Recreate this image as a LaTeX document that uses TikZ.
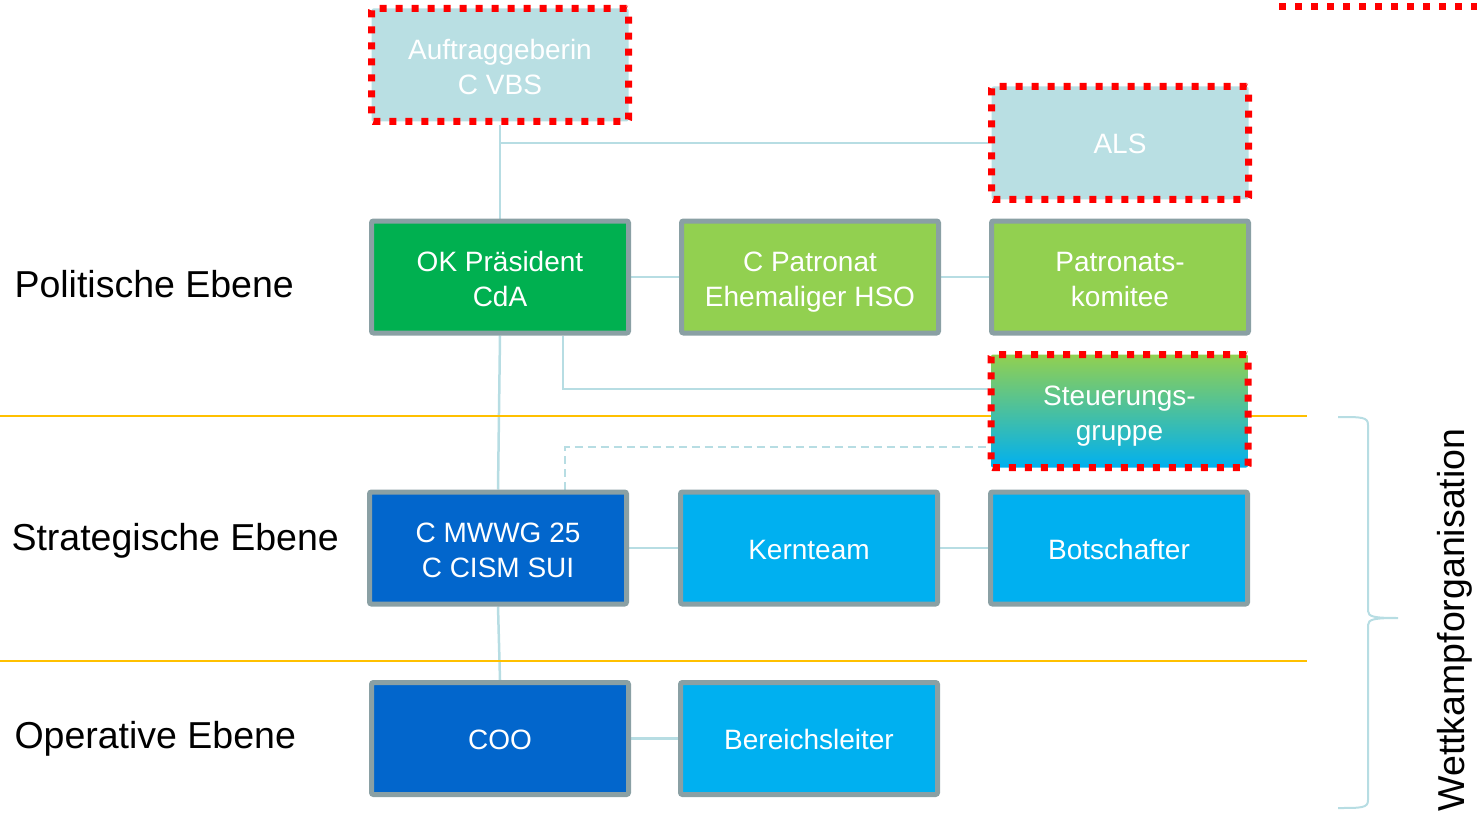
\documentclass[tikz,border=0pt]{standalone}
\usepackage{fontspec}
\setmainfont{Liberation Sans}
\usepackage{tikz}
\usetikzlibrary{calc, backgrounds}

\definecolor{okgreen}{RGB}{0,176,80}
\definecolor{lightgreen}{RGB}{146,208,80}
\definecolor{skyblue}{RGB}{0,176,240}
\definecolor{darkblue}{RGB}{2,102,204}
\definecolor{framegray}{RGB}{138,160,164}
\definecolor{paleblue}{RGB}{185,223,227}
\definecolor{linkblue}{RGB}{183,221,227}
\definecolor{levelorange}{RGB}{255,192,0}

\newcommand{\firstline}{\rule{0pt}{30pt}}

\tikzset{
    box/.style={draw=framegray, line width=5pt, rounded corners=2pt, minimum width=257pt,
        minimum height=112pt, align=center, text=white, font=\fontsize{28}{34.5}\selectfont,
        execute at begin node={\rule{0pt}{28pt}}, execute at end node={\rule[-6pt]{0pt}{6pt}}},
    redbox/.style={box, draw=red, line width=7pt, dash pattern=on 7pt off 9pt,
        minimum width=257pt, minimum height=113pt},
    link/.style={draw=linkblue, line width=2.5pt},
    dashlink/.style={link, dash pattern=on 8pt off 5pt},
    level/.style={draw=levelorange, line width=2.5pt},
    ebene/.style={anchor=west, font=\fontsize{37.5}{42}\selectfont},
}

\begin{document}
\begin{tikzpicture}[x=1pt, y=-1pt]
    \useasboundingbox (0,0) rectangle (1477,813);

    % boxes
    \node[redbox, fill=paleblue] (auftrag) at (500,65) {\firstline Auftraggeberin\\C VBS};
    \node[redbox, fill=paleblue] (als) at (1120,143) {ALS};
    \node[box, fill=okgreen] (okpraes) at (500,277) {\firstline OK Präsident\\CdA};
    \node[box, fill=lightgreen] (patronat) at (810,277) {\firstline C Patronat\\Ehemaliger HSO};
    \node[box, fill=lightgreen] (komitee) at (1120,277) {\firstline Patronats-\\komitee};
    \node[redbox, top color=lightgreen, bottom color=skyblue] (steuer) at (1119.5,411) {\firstline Steuerungs-\\gruppe};
    \node[box, fill=darkblue] (mwwg) at (498,548) {\firstline C MWWG 25\\C CISM SUI};
    \node[box, fill=skyblue] (kern) at (809,548) {Kernteam};
    \node[box, fill=skyblue] (botsch) at (1119,548) {Botschafter};
    \node[box, fill=darkblue] (coo) at (500,738.5) {COO};
    \node[box, fill=skyblue] (bereich) at (809,738.5) {Bereichsleiter};

    % levels
    \node[ebene] (politisch) at (11,284) {Politische Ebene};
    \node[ebene] (strategisch) at (8,541) {Strategische Ebene};
    \node[ebene] (operativ) at (11,739) {Operative Ebene};

    \begin{scope}[on background layer]
        \draw[link] (auftrag.south) -- (okpraes.north);
        \draw[link] (auftrag.south |- als.west) -- (als.west);
        \draw[link] (okpraes.east) -- (patronat.west);
        \draw[link] (patronat.east) -- (komitee.west);
        \draw[link] ($(okpraes.south)+(63,0)$) |- ($(steuer.west)+(0,-22)$);
        \draw[link] (okpraes.south) -- (mwwg.north);
        \draw[dashlink] ($(mwwg.north)+(67,0)$) |- ($(steuer.west)+(0,36)$);
        \draw[link] (mwwg.east) -- (kern.west);
        \draw[link] (kern.east) -- (botsch.west);
        \draw[link] (mwwg.south) -- (coo.north);
        \draw[link] (coo.east) -- (bereich.west);
        \draw[level] (0,416) -- (1307,416);
        \draw[level] (0,661) -- (1307,661);
    \end{scope}

    % brace
    \draw[link, line width=2pt] (1338,417) .. controls (1362,417) and (1368,417) .. (1368,425)
        -- (1368,611) .. controls (1368,617) and (1375,618) .. (1398,618)
        .. controls (1375,618) and (1368,619) .. (1368,625)
        -- (1368,800) .. controls (1368,808) and (1362,808) .. (1338,808);
    \node[rotate=90, font=\fontsize{37.5}{42}\selectfont] (wettkampf) at (1455,620) {Wettkampforganisation};

    % cut-off frame top right
    \draw[red, line width=7pt, dash pattern=on 7pt off 9pt] (1277,-7) -- (1277,7) -- (1485,7);
\end{tikzpicture}
\end{document}
